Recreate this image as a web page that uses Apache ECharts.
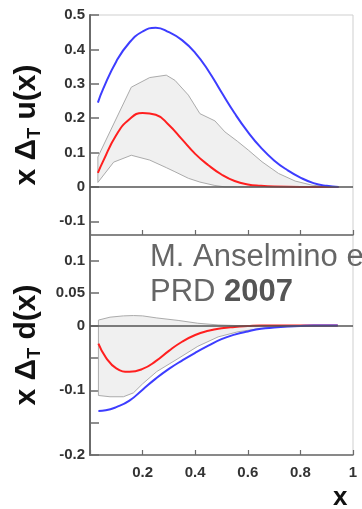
<!DOCTYPE html>
<html>
<head>
<meta charset="utf-8">
<script src="https://cdn.jsdelivr.net/npm/echarts@6/dist/echarts.min.js"></script>
<style>
  html, body { margin: 0; padding: 0; background: #fff; }
  #chart { width: 362px; height: 509px; }
</style>
</head>
<body>
<div id="chart"></div>
<script>
// ---- transversity, up quark: x*Δ_T u(x) ----
const uBoundX = [0.03, 0.05, 0.1, 0.15, 0.2, 0.25, 0.3, 0.35, 0.4, 0.45, 0.5, 0.55, 0.6, 0.65, 0.7, 0.75, 0.8, 0.85, 0.9, 0.945];
const uBound  = [0.245, 0.285, 0.365, 0.42, 0.452, 0.463, 0.450, 0.427, 0.390, 0.338, 0.275, 0.214, 0.160, 0.114, 0.077, 0.049, 0.027, 0.011, 0.003, 0.0];

const uFitX = [0.03, 0.05, 0.1, 0.15, 0.2, 0.25, 0.3, 0.35, 0.4, 0.45, 0.5, 0.55, 0.6, 0.65, 0.7, 0.8, 0.945];
const uFit  = [0.041, 0.075, 0.151, 0.197, 0.215, 0.210, 0.180, 0.138, 0.096, 0.063, 0.036, 0.017, 0.007, 0.003, 0.001, 0.0, 0.0];

const uBandX    = [0.03, 0.09, 0.157, 0.227, 0.29, 0.323, 0.374, 0.418, 0.475, 0.513, 0.56, 0.602, 0.654, 0.717, 0.78, 0.844, 0.907, 0.945];
const uBandHigh = [0.087, 0.183, 0.29, 0.318, 0.325, 0.31, 0.267, 0.213, 0.192, 0.16, 0.133, 0.107, 0.073, 0.039, 0.017, 0.005, 0.0, 0.0];
const uBandLow  = [0.013, 0.072, 0.092, 0.078, 0.056, 0.044, 0.025, 0.014, 0.004, 0.0, 0.0, 0.0, 0.0, 0.0, 0.0, 0.0, 0.0, 0.0];

// ---- transversity, down quark: x*Δ_T d(x) ----
const dBoundX = [0.032, 0.06, 0.1, 0.15, 0.2, 0.25, 0.3, 0.35, 0.4, 0.45, 0.5, 0.55, 0.6, 0.65, 0.7, 0.75, 0.8, 0.85, 0.942];
const dBound  = [-0.132, -0.131, -0.126, -0.116, -0.099, -0.082, -0.067, -0.054, -0.042, -0.031, -0.021, -0.014, -0.009, -0.005, -0.003, -0.0015, -0.0005, 0.0, 0.0];

const dFitX = [0.032, 0.06, 0.1, 0.15, 0.2, 0.25, 0.3, 0.35, 0.4, 0.45, 0.5, 0.55, 0.6, 0.65, 0.7, 0.942];
const dFit  = [-0.028, -0.049, -0.066, -0.0715, -0.067, -0.055, -0.039, -0.025, -0.0145, -0.008, -0.004, -0.002, -0.0008, 0.0, 0.0, 0.0];

const dBandX    = [0.032, 0.076, 0.127, 0.165, 0.2, 0.254, 0.335, 0.41, 0.487, 0.563, 0.64, 0.72, 0.942];
const dBandHigh = [0.0085, 0.013, 0.015, 0.0155, 0.015, 0.0118, 0.008, 0.0036, 0.001, 0.0, 0.0, 0.0, 0.0];
const dBandLow  = [-0.108, -0.110, -0.110, -0.104, -0.090, -0.071, -0.051, -0.032, -0.0175, -0.0095, -0.005, -0.002, 0.0];

// ---- axis ticks and labels ----
const xTickValues  = [0, 0.2, 0.4, 0.6, 0.8, 1];
const xTickLabels  = [0.2, 0.4, 0.6, 0.8, 1];
const uTickValues  = [-0.1, 0, 0.1, 0.2, 0.3, 0.4, 0.5];
const uTickLabels  = [-0.1, 0, 0.1, 0.2, 0.3, 0.4, 0.5];
const dTickValues  = [-0.2, -0.15, -0.1, -0.05, 0, 0.05, 0.1];
const dTickLabels  = [-0.2, -0.1, 0, 0.05, 0.1];

const BLUE = '#3d3dff';
const RED = '#ff1f1f';
const AXIS = '#6b6b6b';
const LABEL = '#333';
const FONT = 'Liberation Sans, Arial, sans-serif';

const zip = (xs, ys) => xs.map((x, i) => [x, ys[i]]);

function bandSeries(axisIndex, xs, hi, lo) {
  return {
    type: 'custom',
    xAxisIndex: axisIndex,
    yAxisIndex: axisIndex,
    z: 1,
    silent: true,
    data: [[xs[0], hi[0]]],
    renderItem: function (params, api) {
      const upper = xs.map((x, i) => api.coord([x, hi[i]]));
      const lower = xs.map((x, i) => api.coord([x, lo[i]])).reverse();
      return {
        type: 'polygon',
        shape: { points: upper.concat(lower) },
        style: { fill: '#f0f0f0', stroke: '#ababab', lineWidth: 1 }
      };
    }
  };
}

function curve(axisIndex, xs, ys, color) {
  return {
    type: 'line',
    xAxisIndex: axisIndex,
    yAxisIndex: axisIndex,
    data: zip(xs, ys),
    smooth: 0.5,
    showSymbol: false,
    silent: true,
    z: 3,
    lineStyle: { color: color, width: 2 }
  };
}

function zeroLine(axisIndex) {
  return {
    type: 'line',
    xAxisIndex: axisIndex,
    yAxisIndex: axisIndex,
    data: [],
    z: 2,
    silent: true,
    markLine: {
      silent: true,
      symbol: 'none',
      label: { show: false },
      lineStyle: { color: '#555', width: 1.5, type: 'solid' },
      data: [{ yAxis: 0 }]
    }
  };
}

const tickLabelStyle = { fontFamily: FONT, fontWeight: 'bold', fontSize: 15, color: LABEL };
const titleRich = {
  a: { fontFamily: FONT, fontWeight: 'bold', fontSize: 30, color: '#111', lineHeight: 34 },
  s: { fontFamily: FONT, fontWeight: 'bold', fontSize: 18, color: '#111', lineHeight: 34, verticalAlign: 'bottom', padding: [14, 0, 0, 0] }
};

const chart = echarts.init(document.getElementById('chart'), null, { renderer: 'canvas' });
chart.setOption({
  animation: false,
  backgroundColor: '#fff',
  grid: [
    { left: 90, top: 15, width: 263, height: 220, show: true, borderColor: '#cfcfcf', borderWidth: 1, backgroundColor: 'transparent' },
    { left: 90, top: 235, width: 263, height: 220, show: true, borderColor: '#cfcfcf', borderWidth: 1, backgroundColor: 'transparent' }
  ],
  xAxis: [
    {
      gridIndex: 0, type: 'value', min: 0, max: 1, interval: 0.2,
      axisLine: { show: true, onZero: false, lineStyle: { color: AXIS, width: 1.5 } },
      axisTick: { show: true, inside: true, length: 5, lineStyle: { color: AXIS, width: 1.2 }, customValues: xTickValues },
      axisLabel: { show: false },
      splitLine: { show: false }
    },
    {
      gridIndex: 1, type: 'value', min: 0, max: 1, interval: 0.2,
      axisLine: { show: true, onZero: false, lineStyle: { color: AXIS, width: 1.5 } },
      axisTick: { show: true, inside: true, length: 5, lineStyle: { color: AXIS, width: 1.2 }, customValues: xTickValues },
      axisLabel: Object.assign({ margin: 10, customValues: xTickLabels }, tickLabelStyle),
      splitLine: { show: false }
    }
  ],
  yAxis: [
    {
      gridIndex: 0, type: 'value', min: -0.14, max: 0.5,
      axisLine: { show: true, onZero: false, lineStyle: { color: AXIS, width: 2 } },
      axisTick: { show: true, inside: true, length: 9, lineStyle: { color: AXIS, width: 1.5 }, customValues: uTickValues },
      axisLabel: Object.assign({ margin: 5, customValues: uTickLabels }, tickLabelStyle),
      splitLine: { show: false },
      name: '{a|x Δ}{s|T}{a| u(x)}',
      nameLocation: 'middle',
      nameRotate: 90,
      nameGap: 46,
      nameTextStyle: { rich: titleRich }
    },
    {
      gridIndex: 1, type: 'value', min: -0.2, max: 0.14,
      axisLine: { show: true, onZero: false, lineStyle: { color: AXIS, width: 2 } },
      axisTick: { show: true, inside: true, length: 9, lineStyle: { color: AXIS, width: 1.5 }, customValues: dTickValues },
      axisLabel: Object.assign({ margin: 5, customValues: dTickLabels }, tickLabelStyle),
      splitLine: { show: false },
      name: '{a|x Δ}{s|T}{a| d(x)}',
      nameLocation: 'middle',
      nameRotate: 90,
      nameGap: 46,
      nameTextStyle: { rich: titleRich }
    }
  ],
  graphic: [
    {
      type: 'text', left: 150, top: 242, z: 10, silent: true,
      style: { text: 'M. Anselmino et al.', font: '31px "Liberation Sans", Arial, sans-serif', fill: '#666' }
    },
    {
      type: 'text', left: 150, top: 277, z: 10, silent: true,
      style: {
        text: '{n|PRD }{b|2007}',
        rich: {
          n: { fontFamily: FONT, fontSize: 31, fill: '#666' },
          b: { fontFamily: FONT, fontSize: 31, fontWeight: 'bold', fill: '#555' }
        }
      }
    },
    {
      type: 'text', left: 333, top: 485, z: 10, silent: true,
      style: { text: 'x', font: 'bold 26px "Liberation Sans", Arial, sans-serif', fill: '#111' }
    }
  ],
  series: [
    bandSeries(0, uBandX, uBandHigh, uBandLow),
    zeroLine(0),
    curve(0, uFitX, uFit, RED),
    curve(0, uBoundX, uBound, BLUE),
    bandSeries(1, dBandX, dBandHigh, dBandLow),
    zeroLine(1),
    curve(1, dFitX, dFit, RED),
    curve(1, dBoundX, dBound, BLUE)
  ]
});
</script>
</body>
</html>
